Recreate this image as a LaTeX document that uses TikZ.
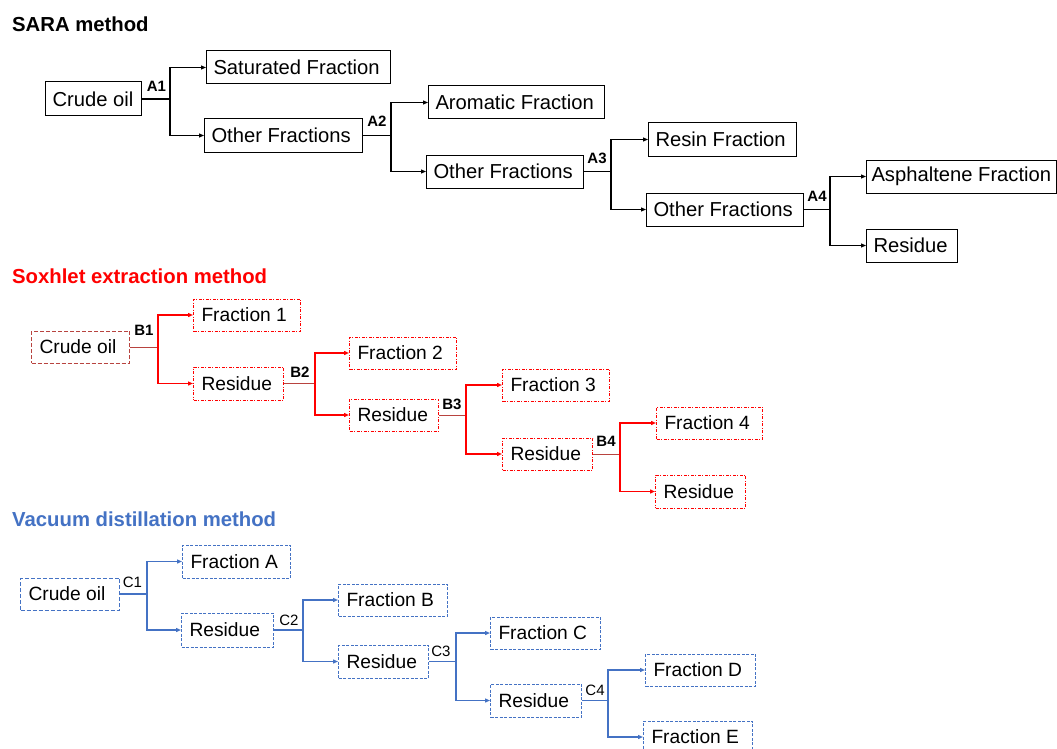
\documentclass[tikz,border=0pt]{standalone}
\usepackage{fontspec}
\setmainfont{Liberation Sans}
\usetikzlibrary{arrows.meta}
\definecolor{soxdark}{HTML}{B8433F}
\definecolor{soxred}{HTML}{FF0000}
\definecolor{vacblue}{HTML}{4472C4}
\newcommand\bxt[2]{\makebox[#1][l]{#2}}
\tikzset{
  box/.style={draw, anchor=west, inner ysep=0pt, text=black},
  sarabox/.style={box, draw=black, line width=1pt, inner xsep=7pt, font=\fontsize{20.2}{22}\selectfont},
  soxbox/.style={box, draw=soxred, line width=1pt, inner xsep=8pt, font=\fontsize{19.2}{22}\selectfont, dash pattern=on 3pt off 1.5pt on 1pt off 1.5pt},
  soxroot/.style={box, draw=soxdark, line width=1pt, inner xsep=8pt, font=\fontsize{19.2}{22}\selectfont, dash pattern=on 4pt off 2pt},
  vacbox/.style={box, draw=vacblue, line width=1pt, inner xsep=8pt, font=\fontsize{19.2}{22}\selectfont, dash pattern=on 3pt off 1.5pt},
  vacroot/.style={box, draw=vacblue, line width=1pt, inner xsep=8pt, font=\fontsize{19.2}{22}\selectfont, dash pattern=on 4pt off 2pt},
  tip/.style={-{Triangle[length=5pt,width=4pt]}},
  saraline/.style={draw=black, line width=1.1pt},
  soxstem/.style={draw=soxdark, line width=1pt},
  soxline/.style={draw=soxred, line width=1.5pt},
  vacline/.style={draw=vacblue, line width=1.2pt},
  lab/.style={font=\fontsize{15}{17}\selectfont\bfseries, inner sep=0pt},
  labr/.style={font=\fontsize{15}{17}\selectfont, inner sep=0pt},
  title/.style={font=\fontsize{20.3}{24}\selectfont\bfseries, anchor=west, inner sep=0pt},
}
\begin{document}
\begin{tikzpicture}[x=1pt,y=-1pt]
\clip (0,0) rectangle (1057,749);
\fill[white] (0,0) rectangle (1057,749);

% ---------------- SARA ----------------
\node[title] (t1) at (12,24) {SARA method};
\node[sarabox, minimum height=34pt] (a0) at (45,99) {\bxt{82pt}{Crude oil}};
\node[sarabox, minimum height=33pt] (a1s) at (206,67.5) {\bxt{170pt}{Saturated Fraction}};
\node[sarabox, minimum height=33pt] (a1o) at (204,135.5) {\bxt{144pt}{Other Fractions}};
\node[sarabox, minimum height=33pt] (a2s) at (428,102.5) {\bxt{162pt}{Aromatic Fraction}};
\node[sarabox, minimum height=33pt] (a2o) at (426,171.5) {\bxt{143pt}{Other Fractions}};
\node[sarabox, minimum height=33pt] (a3s) at (648,139.5) {\bxt{134pt}{Resin Fraction}};
\node[sarabox, minimum height=33pt] (a3o) at (646,209.5) {\bxt{143pt}{Other Fractions}};
\node[sarabox, minimum height=33pt, inner xsep=5pt] (a4s) at (866,176.5) {\bxt{180pt}{Asphaltene Fraction}};
\node[sarabox, minimum height=33pt] (a4o) at (866,245.5) {\bxt{77pt}{Residue}};

\coordinate (ja1) at (170,99);
\coordinate (ja2) at (391,135.5);
\coordinate (ja3) at (611,171.5);
\coordinate (ja4) at (830,209.5);
\draw[saraline] (a0.east) -- (ja1);
\draw[saraline, tip] (ja1) |- (a1s.west);
\draw[saraline, tip] (ja1) |- (a1o.west);
\draw[saraline] (a1o.east) -- (ja2);
\draw[saraline, tip] (ja2) |- (a2s.west);
\draw[saraline, tip] (ja2) |- (a2o.west);
\draw[saraline] (a2o.east) -- (ja3);
\draw[saraline, tip] (ja3) |- (a3s.west);
\draw[saraline, tip] (ja3) |- (a3o.west);
\draw[saraline] (a3o.east) -- (ja4);
\draw[saraline, tip] (ja4) |- (a4s.west);
\draw[saraline, tip] (ja4) |- (a4o.west);
\node[lab] (la1) at (156.5,86.5) {A1};
\node[lab] (la2) at (377,121) {A2};
\node[lab] (la3) at (597,158) {A3};
\node[lab] (la4) at (817,196) {A4};

% ---------------- Soxhlet ----------------
\node[title, text=soxred] (t2) at (12,276) {Soxhlet extraction method};
\node[soxroot, minimum height=32pt] (b0) at (31,347) {\bxt{82pt}{Crude oil}};
\node[soxbox, minimum height=32pt] (b1s) at (193,315) {\bxt{91pt}{Fraction 1}};
\node[soxbox, minimum height=33pt] (b1o) at (193,383.5) {\bxt{74pt}{Residue}};
\node[soxbox, minimum height=32pt] (b2s) at (349,353) {\bxt{91pt}{Fraction 2}};
\node[soxbox, minimum height=32pt] (b2o) at (349,415) {\bxt{73pt}{Residue}};
\node[soxbox, minimum height=32pt] (b3s) at (502,385) {\bxt{91pt}{Fraction 3}};
\node[soxbox, minimum height=32pt] (b3o) at (502,454) {\bxt{74pt}{Residue}};
\node[soxbox, minimum height=32pt] (b4s) at (656,423) {\bxt{90pt}{Fraction 4}};
\node[soxbox, minimum height=33pt] (b4o) at (655,491.5) {\bxt{74pt}{Residue}};

\coordinate (jb1) at (158,347);
\coordinate (jb2) at (315,383.5);
\coordinate (jb3) at (466,415);
\coordinate (jb4) at (620,454);
\draw[soxstem] (b0.east) -- (jb1);
\draw[soxline, tip] (jb1) |- (b1s.west);
\draw[soxline, tip] (jb1) |- (b1o.west);
\draw[soxstem] (b1o.east) -- (jb2);
\draw[soxline, tip] (jb2) |- (b2s.west);
\draw[soxline, tip] (jb2) |- (b2o.west);
\draw[soxstem] (b2o.east) -- (jb3);
\draw[soxline, tip] (jb3) |- (b3s.west);
\draw[soxline, tip] (jb3) |- (b3o.west);
\draw[soxstem] (b3o.east) -- (jb4);
\draw[soxline, tip] (jb4) |- (b4s.west);
\draw[soxline, tip] (jb4) |- (b4o.west);
\node[lab] (lb1) at (144,330) {B1};
\node[lab] (lb2) at (300,372) {B2};
\node[lab] (lb3) at (452,404) {B3};
\node[lab] (lb4) at (606,441) {B4};

% ---------------- Vacuum ----------------
\node[title, text=vacblue] (t3) at (12,519) {Vacuum distillation method};
\node[vacroot, minimum height=32pt] (c0) at (20,594) {\bxt{83pt}{Crude oil}};
\node[vacbox, minimum height=33pt] (c1s) at (182,561.5) {\bxt{92pt}{Fraction A}};
\node[vacbox, minimum height=34pt] (c1o) at (181,630) {\bxt{76pt}{Residue}};
\node[vacbox, minimum height=32pt] (c2s) at (338,600) {\bxt{93pt}{Fraction B}};
\node[vacbox, minimum height=33pt] (c2o) at (338,661.5) {\bxt{74pt}{Residue}};
\node[vacbox, minimum height=32pt] (c3s) at (490,633) {\bxt{94pt}{Fraction C}};
\node[vacbox, minimum height=33pt] (c3o) at (490,700.5) {\bxt{75pt}{Residue}};
\node[vacbox, minimum height=32pt] (c4s) at (645,670) {\bxt{94pt}{Fraction D}};
\node[vacbox, minimum height=32pt] (c4o) at (643,737) {\bxt{93pt}{Fraction E}};

\coordinate (jc1) at (147,594);
\coordinate (jc2) at (303,630);
\coordinate (jc3) at (456,661.5);
\coordinate (jc4) at (608,700.5);
\draw[vacline] (c0.east) -- (jc1);
\draw[vacline, tip] (jc1) |- (c1s.west);
\draw[vacline, tip] (jc1) |- (c1o.west);
\draw[vacline] (c1o.east) -- (jc2);
\draw[vacline, tip] (jc2) |- (c2s.west);
\draw[vacline, tip] (jc2) |- (c2o.west);
\draw[vacline] (c2o.east) -- (jc3);
\draw[vacline, tip] (jc3) |- (c3s.west);
\draw[vacline, tip] (jc3) |- (c3o.west);
\draw[vacline] (c3o.east) -- (jc4);
\draw[vacline, tip] (jc4) |- (c4s.west);
\draw[vacline, tip] (jc4) |- (c4o.west);
\node[labr] (lc1) at (132.5,582) {C1};
\node[labr] (lc2) at (289,620) {C2};
\node[labr] (lc3) at (441,651.5) {C3};
\node[labr] (lc4) at (595,690) {C4};
\end{tikzpicture}
\end{document}
